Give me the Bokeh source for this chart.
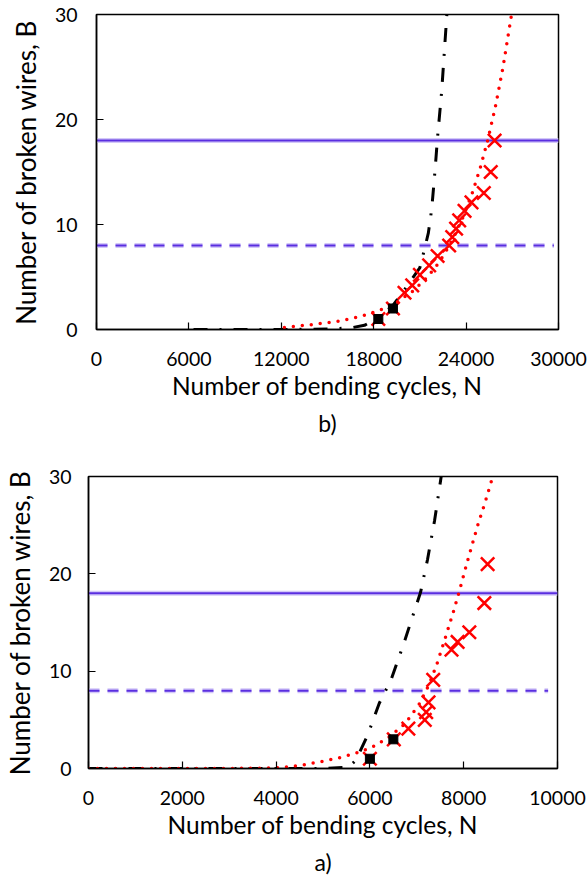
from bokeh.plotting import figure
from bokeh.models import Range1d, FixedTicker, Title, BasicTickFormatter
from bokeh.embed import file_html
from bokeh.resources import INLINE

# discard criteria, number of broken wires
limit_solid = 18
limit_dashed = 8

# panel b) - measured points
b_x_n = [18300, 19250, 20000, 20500, 21000, 21600, 22150, 22900, 23100, 23350,
         23550, 23900, 24350, 25150, 25600, 25850]
b_x_b = [1, 2, 3.5, 4.2, 5.2, 6.1, 7, 8, 8.8, 9.6, 10.4, 11.3, 12.1, 13, 15, 18]
b_sq_n = [18300, 19250]
b_sq_b = [1, 2]
# panel b) - fitted curves
b_black_n = [6300, 9000, 12000, 15000, 16500, 17400, 18300, 19250, 20250, 21000,
             21340, 21550, 21770, 21990, 22135, 22420, 22750]
b_black_b = [0, 0, 0, 0.05, 0.15, 0.4, 1.1, 2.3, 4.3, 5.9, 7.9, 9.2, 11.5, 15.3,
             18.1, 22.8, 30]
b_red_n = [12200, 13900, 15600, 17300, 18500, 19500, 20500, 21300, 22000, 22600,
           23200, 23800, 24400, 24900, 25400, 25900, 26400, 26950]
b_red_b = [0.2, 0.45, 0.75, 1.3, 1.9, 2.6, 3.6, 4.7, 5.9, 7.2, 8.8, 10.7, 13.0,
           15.3, 18.0, 21.2, 25.0, 30]

# panel a) - measured points
a_x_n = [6000, 6510, 6820, 7170, 7200, 7250, 7350, 7740, 7870, 8120, 8440, 8510]
a_x_b = [1, 3, 4.1, 5, 5.8, 6.8, 9.1, 12.2, 13, 14, 17, 21]
a_sq_n = [6000, 6500]
a_sq_b = [1, 3]
# panel a) - fitted curves
a_black_n = [0, 1000, 2000, 3000, 4000, 5000, 5550, 5700, 5950, 6200, 6450, 6720,
             6950, 7080, 7230, 7380, 7520]
a_black_b = [0, 0, 0, 0, 0, 0, 0.15, 0.85, 3.4, 6.7, 9.1, 12.8, 16.2, 18.1, 21.5,
             25.5, 30]
a_red_n = [0, 1000, 2000, 3000, 4000, 4500, 5000, 5400, 5750, 6050, 6400, 6750,
           7050, 7250, 7420, 7600, 7780, 7900, 8080, 8300, 8460, 8620]
a_red_b = [0, 0, 0, 0, 0.05, 0.3, 0.75, 1.15, 1.65, 2.2, 3.2, 4.6, 6.6, 8.5, 10.6,
           13.3, 16.1, 18.1, 21.3, 25.0, 27.4, 30]

b_xticks = [0, 6000, 12000, 18000, 24000, 30000]
a_xticks = [0, 2000, 4000, 6000, 8000, 10000]
yticks = [0, 10, 20, 30]

FONT = "Lato"
BLUE = "#5a2ee0"
HALO = "#d3c8f8"
W = 587


def make_panel(caption, xmax, dash_end, xticks, x_n, x_b, sq_n, sq_b,
               blk_n, blk_b, red_n, red_b, height, left, top, frame_w, frame_h,
               y_std, ylab_std):
    p = figure(width=W, height=height, output_backend="svg",
               toolbar_location=None,
               x_range=Range1d(0, xmax), y_range=Range1d(0, 30),
               min_border_left=left, min_border_top=top,
               min_border_right=W - left - frame_w,
               min_border_bottom=height - top - frame_h)
    p.xgrid.grid_line_color = None
    p.ygrid.grid_line_color = None
    p.outline_line_color = "black"
    p.outline_line_width = 1.5
    p.background_fill_color = "white"
    p.border_fill_color = "white"

    # limit lines
    p.line([0, xmax], [limit_solid, limit_solid], line_color=HALO, line_width=5)
    p.line([0, xmax], [limit_solid, limit_solid], line_color=BLUE, line_width=2)
    p.line([0, dash_end], [limit_dashed, limit_dashed], line_color=HALO,
           line_width=5, line_dash="11 8")
    p.line([0, dash_end], [limit_dashed, limit_dashed], line_color=BLUE,
           line_width=2, line_dash="11 8")

    # fitted curves
    p.line(blk_n, blk_b, line_color="black", line_width=3, line_dash="14 12 2 12")
    p.line(red_n, red_b, line_color="red", line_width=3.5, line_dash="0 9",
           line_cap="round")

    # measurements
    p.scatter(x_n, x_b, marker="x", size=19, line_color="red", line_width=2.5)
    p.scatter(sq_n, sq_b, marker="square", size=9, color="black")

    p.xaxis.ticker = FixedTicker(ticks=xticks)
    p.yaxis.ticker = FixedTicker(ticks=yticks)
    p.xaxis.formatter = BasicTickFormatter(use_scientific=False)
    for ax in (p.xaxis, p.yaxis):
        ax.major_tick_in = 7
        ax.major_tick_out = 0
        ax.minor_tick_line_color = None
        ax.axis_line_color = "black"
        ax.axis_line_width = 1.5
        ax.major_tick_line_color = "black"
        ax.major_tick_line_width = 1.2
        ax.major_label_text_font = FONT
        ax.major_label_text_font_size = "19.5px"
        ax.major_label_text_color = "black"
        ax.axis_label_text_font = FONT
        ax.axis_label_text_font_style = "normal"
        ax.axis_label_text_color = "black"
    p.xaxis.axis_label = "Number of bending cycles, N"
    p.yaxis.axis_label = "Number of broken wires, B"
    p.xaxis.axis_label_text_font_size = "24.5px"
    p.yaxis.axis_label_text_font_size = "26px"
    p.xaxis.major_label_standoff = 22
    p.xaxis.axis_label_standoff = 2
    p.yaxis.major_label_standoff = y_std
    p.yaxis.axis_label_standoff = ylab_std

    p.add_layout(Title(text=caption, align="center", text_font=FONT,
                       text_font_size="23px", text_font_style="normal",
                       text_color="black", standoff=8), "below")
    return p


pb = make_panel("b)", 30000, 29700, b_xticks, b_x_n, b_x_b, b_sq_n, b_sq_b,
                b_black_n, b_black_b, b_red_n, b_red_b,
                height=440, left=96, top=14, frame_w=462, frame_h=318,
                y_std=19, ylab_std=10)
pa = make_panel("a)", 10000, 9800, a_xticks, a_x_n, a_x_b, a_sq_n, a_sq_b,
                a_black_n, a_black_b, a_red_n, a_red_b,
                height=440, left=86, top=36, frame_w=471, frame_h=292,
                y_std=17, ylab_std=10)

# two separate roots, stacked on the page, so the frames keep their own offsets
open("out.html", "w").write(file_html([pb, pa], INLINE))
